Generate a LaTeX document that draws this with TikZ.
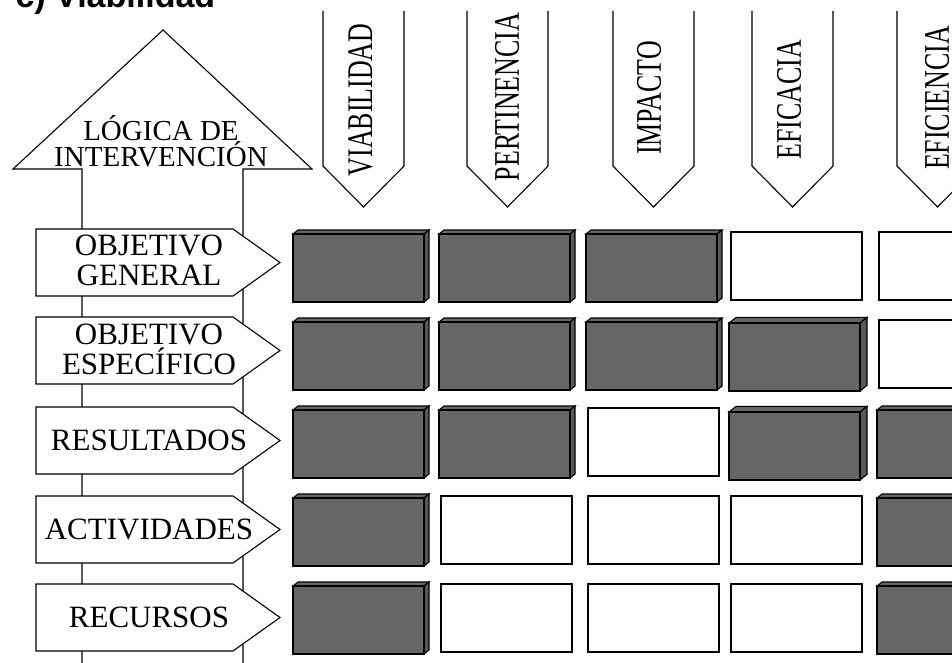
\documentclass[tikz,border=0pt]{standalone}
\usepackage{fontspec}
\usepackage{tikz}
\setmainfont{Liberation Serif}
\newfontfamily\titulofont{Liberation Sans}
\definecolor{bloquegris}{RGB}{102,102,102}
\definecolor{ladogris}{RGB}{88,88,88}

% bloque oscuro con relieve y casilla vacia (esquina sup. izq. de la cara frontal)
\newcommand{\bloque}[3][5]{%
  \draw[fill=bloquegris] (#2,#3) -- ++(#1,-0.8*#1) -- ++(131,0) -- ++(-#1,0.8*#1) -- cycle;
  \draw[fill=ladogris] (#2+131,#3) -- ++(#1,-0.8*#1) -- ++(0,68) -- ++(-#1,0.8*#1) -- cycle;
  \draw[fill=bloquegris] (#2,#3) rectangle ++(131,68);}
\newcommand{\casilla}[2]{%
  \draw[fill=white] (#1+2,#2-2) rectangle ++(131,68);}

\begin{document}
\begin{tikzpicture}[x=1pt,y=-1pt,line width=1.1pt,
  etiqueta/.style={align=center,font=\fontsize{31}{30}\selectfont},
  columna/.style={rotate=90,inner sep=1pt,font=\fontsize{36}{36}\selectfont}]
\useasboundingbox (0,0) rectangle (952,663);
\clip (0,0) rectangle (952,663);

% titulo (cortado arriba)
\node[anchor=base west,inner sep=0pt,font=\titulofont\bfseries\fontsize{34}{34}\selectfont] (titulo) at (15,8) {c) Viabilidad};

% flecha de la logica de intervencion
\draw[fill=white] (82,670) -- (82,169) -- (13,169) -- (163,30) -- (312,169) -- (243,169) -- (243,670);
\node[align=center,inner sep=1pt,font=\fontsize{29}{26}\selectfont] (logica) at (161,141) {LÓGICA DE\\INTERVENCIÓN};

% niveles
\draw[fill=white] (36,229) -- (233,229) -- (280,262.5) -- (233,296) -- (36,296) -- cycle;
\draw[fill=white] (36,317) -- (233,317) -- (280,350.5) -- (233,384) -- (36,384) -- cycle;
\draw[fill=white] (36,407) -- (233,407) -- (280,440.5) -- (233,474) -- (36,474) -- cycle;
\draw[fill=white] (36,496) -- (233,496) -- (280,529.5) -- (233,563) -- (36,563) -- cycle;
\draw[fill=white] (36,584) -- (233,584) -- (280,617.5) -- (233,651) -- (36,651) -- cycle;

\node[etiqueta] (objgeneral) at (149,260) {OBJETIVO\\GENERAL};
\node[etiqueta] (objespecifico) at (149,349) {OBJETIVO\\ESPECÍFICO};
\node[etiqueta] (resultados) at (149,440.5) {RESULTADOS};
\node[etiqueta] (actividades) at (149,529.5) {ACTIVIDADES};
\node[etiqueta] (recursos) at (149,617.5) {RECURSOS};

% criterios
\draw[fill=white] (323,11) -- (323,166) -- (363.5,207) -- (404,166) -- (404,11);
\draw[fill=white] (467,11) -- (467,166) -- (507.5,207) -- (548,166) -- (548,11);
\draw[fill=white] (613,11) -- (613,166) -- (653.5,207) -- (694,166) -- (694,11);
\draw[fill=white] (752,11) -- (752,166) -- (792.5,207) -- (833,166) -- (833,11);
\draw[fill=white] (897,11) -- (897,166) -- (937.5,207) -- (978,166) -- (978,11);

\node[columna] (viabilidad) at (360.5,100) {\scalebox{0.72}[1]{VIABILIDAD}};
\node[columna] (pertinencia) at (507,97) {\scalebox{0.72}[1]{PERTINENCIA}};
\node[columna] (impacto) at (649,98) {\scalebox{0.72}[1]{IMPACTO}};
\node[columna] (eficacia) at (789,100) {\scalebox{0.72}[1]{EFICACIA}};
\node[columna] (eficiencia) at (937,98) {\scalebox{0.72}[1]{EFICIENCIA}};

% matriz
\bloque{293}{234} \bloque{439}{234} \bloque{586}{234} \casilla{729}{234} \casilla{877}{234}
\bloque{293}{322} \bloque{439}{322} \bloque{586}{322} \bloque[7]{729}{323} \casilla{877}{322}
\bloque{293}{410} \bloque{439}{410} \casilla{586}{410} \bloque[7]{729}{412} \bloque{877}{410}
\bloque{293}{498} \casilla{439}{498} \casilla{586}{498} \casilla{729}{498} \bloque{877}{498}
\bloque{293}{586} \casilla{439}{586} \casilla{586}{586} \casilla{729}{586} \bloque{877}{586}
\end{tikzpicture}
\end{document}
